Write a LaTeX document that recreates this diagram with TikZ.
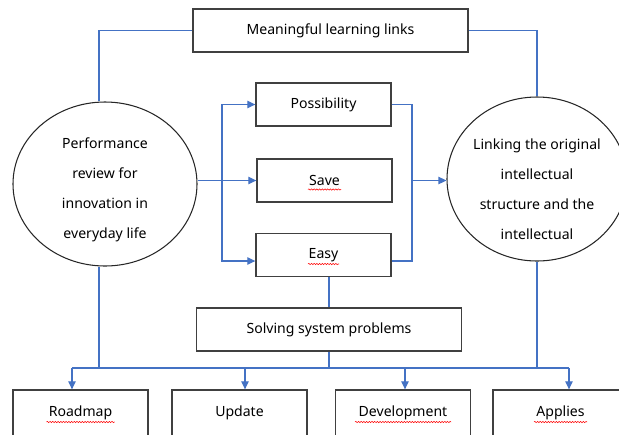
\documentclass[tikz,border=0pt]{standalone}
\usepackage{fontspec}
\setmainfont{Noto Sans}
\usepackage{xcolor}
\usepackage{tikz}
\usetikzlibrary{positioning,calc,shapes.geometric,arrows.meta,decorations.pathmorphing}
\definecolor{LinkBlue}{RGB}{68,114,196}
\definecolor{BoxGray}{RGB}{64,64,64}

\begin{document}
\begin{tikzpicture}[
        x=0.03cm, y=-0.03cm,
        % --- STYLE CHUNG ---
        common/.style={
            font=\fontsize{12}{25.5}\selectfont,
            inner sep=0pt,
            align=center
        },
        % Style hop chu nhat
        text_box/.style={
            common,
            rectangle,
            draw=BoxGray,
            line width=1.1pt,
            minimum width=4.05cm,
            minimum height=1.29cm
        },
        % Style hinh elip
        idea_node/.style={
            common,
            ellipse,
            draw=black!85,
            line width=0.9pt,
            minimum height=4.92cm
        },
        % Style duong noi (xanh)
        flow_line/.style={
            draw=LinkBlue,
            line width=1pt
        },
        flow_arrow/.style={
            flow_line,
            -{Triangle[length=2.4mm, width=2.2mm]}
        },
        % Gach song do duoi chu
        spell_wave/.style={
            draw=red,
            line width=0.45pt,
            decorate,
            decoration={snake, amplitude=0.55pt, segment length=2.3pt}
        }
    ]

        % --- KHUNG ANH ---
        \useasboundingbox (0,0) rectangle (619,434);
        \clip (0,0) rectangle (619,434);

        % --- HOP TREN CUNG ---
        \node[text_box, minimum width=8.25cm] (top_box) at (330.5,30.5) {Meaningful learning links};

        % --- HAI ELIP ---
        \node[idea_node, minimum width=5.52cm] (left_node) at (105,184) {};
        \node[common] (left_text) at ($(left_node.center)+(0,6)$)
            {Performance\\review for\\innovation in\\everyday life};
        \node[idea_node, minimum width=5.4cm] (right_node) at (537,179) {};
        \node[common] (right_text) at ($(right_node.center)+(0,10)$)
            {Linking the original\\intellectual\\structure and the\\intellectual};

        % --- HOP GIUA ---
        \node[text_box] (box_pos)  at (323.5,104.5) {Possibility};
        \node[text_box] (box_save) at (324.5,180.5) {Save};
        \node[text_box] (box_easy) at (323.5,255)   {Easy};
        \node[text_box, minimum width=7.95cm] (box_solve) at (329,329.5) {Solving system problems};

        % --- HOP DUOI ---
        \node[text_box, minimum height=1.38cm] (B1) at (80.5,413)  {Roadmap};
        \node[text_box, minimum height=1.38cm] (B2) at (239.5,413) {Update};
        \node[text_box, minimum height=1.38cm] (B3) at (403,413)   {Development};
        \node[text_box, minimum height=1.38cm] (B4) at (560.5,413) {Applies};

        % --- GACH SONG ---
        \foreach \n/\w in {box_save/33, box_easy/31, B1/68, B3/96, B4/53} {
            \draw[spell_wave] ($(\n.center)+(-\w/2,9)$) -- ++(\w,0);
        }

        % --- DUONG NOI TREN ---
        \coordinate (left_top) at ($(left_node.north)+(-6,0)$);
        \coordinate (left_bot) at ($(left_node.south)+(-6,0)$);
        \draw[flow_line] (top_box.west) -| (left_top);
        \draw[flow_line] (top_box.east) -| (right_node.north);

        % --- NHANH TRAI ---
        \coordinate (split_l) at (222,180.5);
        \draw[flow_arrow] (left_node.east |- box_save.west) -- (box_save.west);
        \draw[flow_arrow] (split_l) |- (box_pos.west);
        \draw[flow_arrow] (split_l) |- ($(box_easy.west)+(0,6)$);

        % --- NHANH PHAI ---
        \coordinate (merge_r) at (412,180.5);
        \draw[flow_line] (box_pos.east) -| (merge_r);
        \draw[flow_line] ($(box_easy.east)+(0,6)$) -| (merge_r);
        \draw[flow_arrow] (merge_r) -- (merge_r -| right_node.west);
        \draw[flow_line] (box_solve.north |- box_easy.south) -- (box_solve.north);

        % --- THANH NGANG DUOI ---
        \coordinate (bus_l) at (72,368);
        \coordinate (bus_r) at (569,368);
        \draw[flow_line] (bus_l) -- (bus_r);
        \draw[flow_line] (left_bot) -- (left_bot |- bus_l);
        \draw[flow_line] (right_node.south) -- (right_node.south |- bus_l);
        \draw[flow_line] (box_solve.south) -- (box_solve.south |- bus_l);
        \foreach \b/\dx in {B1/-8.5, B2/5.5, B3/2, B4/8.5} {
            \draw[flow_arrow] ($(\b.north |- bus_l)+(\dx,0)$) -- ($(\b.north)+(\dx,0)$);
        }

    \end{tikzpicture}
\end{document}
